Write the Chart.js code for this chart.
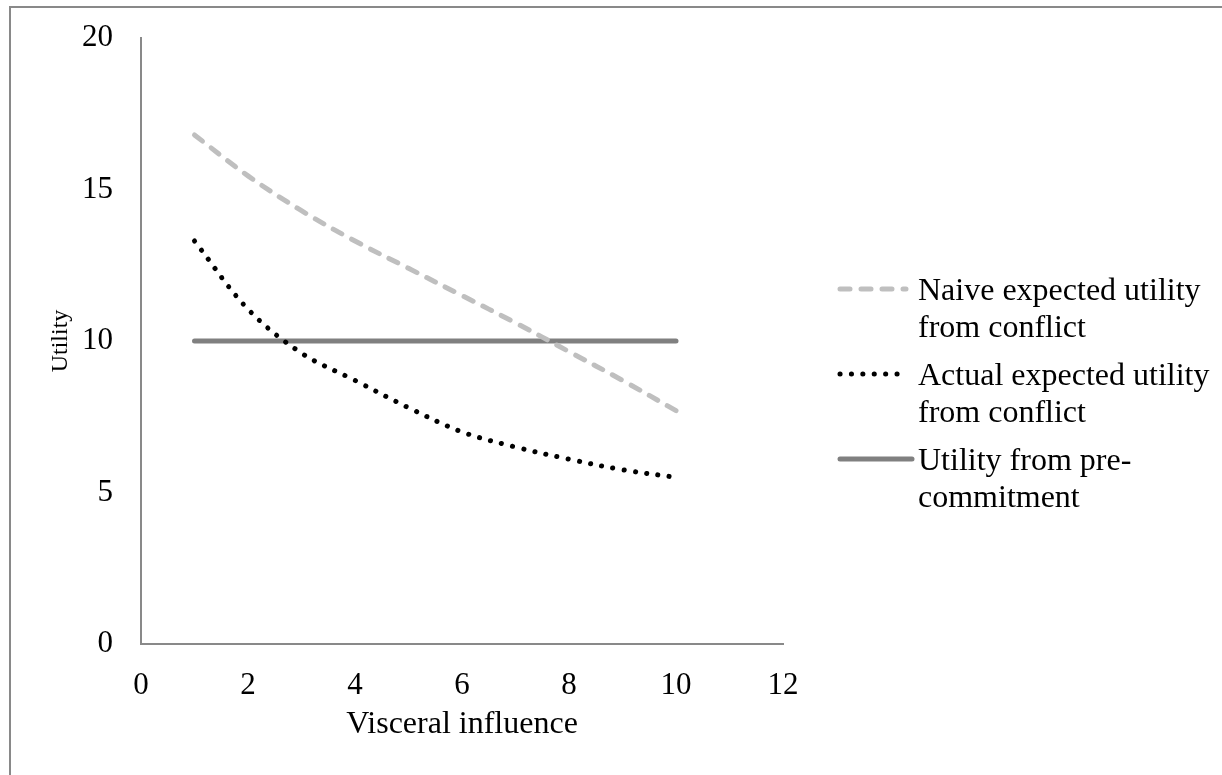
<!DOCTYPE html>
<html>
<head>
<meta charset="utf-8">
<script src="https://cdn.jsdelivr.net/npm/chart.js@4.4.1/dist/chart.umd.min.js"></script>
<style>
  html, body { margin: 0; padding: 0; background: #fff; overflow: hidden; }
  #wrap { position: relative; width: 1222px; height: 775px; }
  #frame {
    position: absolute; left: 9px; top: 6px; width: 1300px; height: 900px;
    border-left: 2px solid #898989; border-top: 2px solid #898989;
    pointer-events: none;
  }
</style>
</head>
<body>
<div id="wrap">
  <canvas id="chart" width="1222" height="775"></canvas>
  <div id="frame"></div>
</div>
<script>
var visceral = [1, 2, 3, 4, 5, 6, 7, 8, 9, 10];
var naiveUtility = [16.8, 15.45, 14.3, 13.3, 12.4, 11.5, 10.6, 9.65, 8.7, 7.7];
var actualUtility = [13.3, 11.05, 9.6, 8.7, 7.8, 7.0, 6.5, 6.1, 5.75, 5.5];
var precommitUtility = [10, 10, 10, 10, 10, 10, 10, 10, 10, 10];
var xTicks = [0, 2, 4, 6, 8, 10, 12];
var yTicks = [0, 5, 10, 15, 20];

var seriesLabels = [
    ["Naive expected utility", "from conflict"],
    ["Actual expected utility", "from conflict"],
    ["Utility from pre-", "commitment"]
];

var serif = "'Liberation Serif', 'Times New Roman', serif";
var axisGray = "#898989";

var toPoints = values => values.map((v, i) => ({ x: visceral[i], y: v }));

// legend drawn by hand so each entry can wrap onto two lines
var sideLegend = {
    id: "sideLegend",
    afterDraw: chart => {
        var ctx = chart.ctx;
        var x0 = 840, x1 = 906, textX = 918;
        var firstBaseline = 300, lineGap = 37, itemGap = 85;
        ctx.save();
        chart.data.datasets.forEach((ds, i) => {
            var base = firstBaseline + i * itemGap;
            var lineY = base - 11;
            ctx.beginPath();
            ctx.strokeStyle = ds.borderColor;
            ctx.lineWidth = ds.borderWidth;
            ctx.lineCap = ds.borderCapStyle;
            ctx.setLineDash(ds.borderDash || []);
            ctx.moveTo(x0, lineY);
            ctx.lineTo(i == 2 ? 912 : x1, lineY);
            ctx.stroke();
            ctx.setLineDash([]);
            ctx.fillStyle = "#000";
            ctx.font = "32px " + serif;
            ctx.textBaseline = "alphabetic";
            ctx.textAlign = "left";
            seriesLabels[i].forEach((t, j) => ctx.fillText(t, textX, base + j * lineGap));
        });
        ctx.restore();
    }
};

new Chart(document.getElementById("chart"), {
    type: "line",
    data: {
        datasets: [
            {
                label: seriesLabels[0].join(" "),
                data: toPoints(naiveUtility),
                borderColor: "#bfbfbf",
                borderWidth: 5,
                borderDash: [10, 11],
                borderCapStyle: "round",
                pointRadius: 0,
                tension: 0.35
            },
            {
                label: seriesLabels[1].join(" "),
                data: toPoints(actualUtility),
                borderColor: "#000000",
                borderWidth: 5,
                borderDash: [0.1, 11.3],
                borderCapStyle: "round",
                pointRadius: 0,
                tension: 0.35
            },
            {
                label: seriesLabels[2].join(" "),
                data: toPoints(precommitUtility),
                borderColor: "#808080",
                borderWidth: 5,
                borderCapStyle: "round",
                pointRadius: 0,
                tension: 0
            }
        ]
    },
    options: {
        responsive: false,
        animation: false,
        devicePixelRatio: 1,
        layout: { padding: { left: 0, top: 38, right: 439, bottom: 0 } },
        plugins: {
            legend: { display: false },
            tooltip: { enabled: false }
        },
        scales: {
            x: {
                type: "linear",
                min: 0,
                max: 12,
                afterBuildTicks: scale => { scale.ticks = xTicks.map(v => ({ value: v })); },
                afterFit: scale => { scale.height = 131; },
                grid: { display: false, drawTicks: false },
                border: { color: axisGray, width: 2 },
                ticks: { padding: 23, color: "#000", font: { family: serif, size: 31 } },
                title: {
                    display: true,
                    text: "Visceral influence",
                    color: "#000",
                    font: { family: serif, size: 32 },
                    padding: { top: 0, bottom: 31 }
                }
            },
            y: {
                min: 0,
                max: 20,
                afterBuildTicks: scale => { scale.ticks = yTicks.map(v => ({ value: v })); },
                afterFit: scale => {
                    scale.width = 141;
                    scale.paddingTop = 0;
                    scale.paddingBottom = 0;
                },
                grid: { display: false, drawTicks: false },
                border: { color: axisGray, width: 2 },
                ticks: { padding: 28, color: "#000", font: { family: serif, size: 31 } },
                title: {
                    display: true,
                    text: "Utility",
                    color: "#000",
                    font: { family: serif, size: 24 },
                    padding: { top: 46, bottom: 0 }
                }
            }
        }
    },
    plugins: [sideLegend]
});
</script>
</body>
</html>
